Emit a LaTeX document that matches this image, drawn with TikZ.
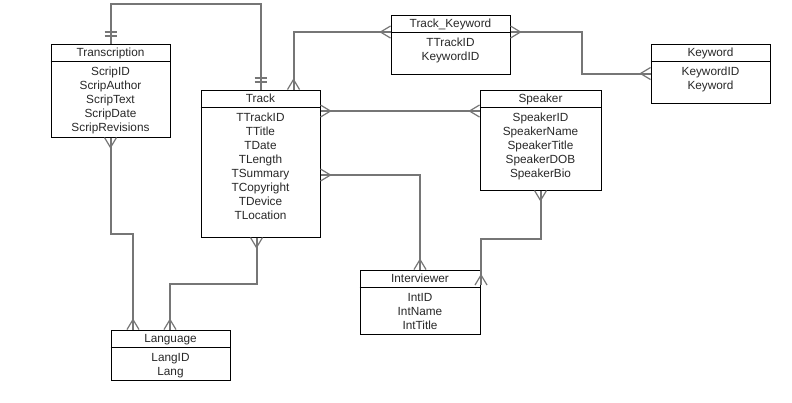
\documentclass[tikz,border=0pt]{standalone}
\usepackage{fontspec}
\setmainfont{Liberation Sans}
\usetikzlibrary{calc}
\definecolor{conncol}{RGB}{118,118,118}
\definecolor{txtcol}{RGB}{40,40,40}
\tikzset{
  entity/.style={draw=black, line width=1bp, rectangle, inner sep=0pt, anchor=north west, fill=white},
  ttl/.style={anchor=base, inner sep=0pt, text=txtcol, font=\fontsize{11.8bp}{14bp}\selectfont},
  attr/.style={anchor=north, inner sep=0pt, align=center, text=txtcol, font=\fontsize{11.8bp}{14bp}\selectfont},
  conn/.style={draw=conncol, line width=2bp},
  crowline/.style={draw=conncol, line width=1.2bp},
  hdr/.style={draw=black, line width=1bp}
}
\newcommand\ent[7]{%
  \node[entity, minimum width=#4bp, minimum height=#5bp] (#1) at (#2,#3) {};
  \draw[hdr] ($(#1.north west)+(0,18)$) -- ($(#1.north east)+(0,18)$);
  \node[ttl] (#1-t) at ($(#1.north)+(0,13)$) {#6};
  \node[attr] (#1-a) at ($(#1.north)+(0,22.5)$) {\rule{0pt}{9bp}#7};
}
\newcommand\crowN[1]{\draw[crowline] ($(#1)+(-6,0)$) -- ($(#1)+(0,-10)$) -- ($(#1)+(6,0)$);}
\newcommand\crowS[1]{\draw[crowline] ($(#1)+(-6,0)$) -- ($(#1)+(0,10)$) -- ($(#1)+(6,0)$);}
\newcommand\crowW[1]{\draw[crowline] ($(#1)+(0,-6)$) -- ($(#1)+(-10,0)$) -- ($(#1)+(0,6)$);}
\newcommand\crowE[1]{\draw[crowline] ($(#1)+(0,-6)$) -- ($(#1)+(10,0)$) -- ($(#1)+(0,6)$);}
\newcommand\barsN[1]{\draw[conn] ($(#1)+(-6,-7.5)$) -- ($(#1)+(6,-7.5)$) ($(#1)+(-6,-11.5)$) -- ($(#1)+(6,-11.5)$);}
\begin{document}
\begin{tikzpicture}[x=1bp, y=-1bp]
\fill[white] (0,0) rectangle (792,402);
\path[use as bounding box] (0,0) rectangle (792,402);

\ent{trans}{50.5}{43.5}{119}{93}{Transcription}{ScripID\\ScripAuthor\\ScripText\\ScripDate\\ScripRevisions}
\ent{track}{200.5}{89.5}{119}{147}{Track}{TTrackID\\TTitle\\TDate\\TLength\\TSummary\\TCopyright\\TDevice\\TLocation}
\ent{tk}{390.5}{14.5}{119}{59}{Track\_Keyword}{TTrackID\\KeywordID}
\ent{kw}{650.5}{43.5}{119}{59}{Keyword}{KeywordID\\Keyword}
\ent{spk}{479.5}{89.5}{121}{100}{Speaker}{SpeakerID\\SpeakerName\\SpeakerTitle\\SpeakerDOB\\SpeakerBio}
\ent{intv}{359.5}{269.5}{120}{64}{Interviewer}{IntID\\IntName\\IntTitle}
\ent{lang}{110.5}{329.5}{119}{50}{Language}{LangID\\Lang}

% Transcription -- Track (one to one)
\coordinate (c1a) at (trans.north);
\coordinate (c1b) at (track.north);
\draw[conn] (c1a) -- ($(c1a)+(0,-39.5)$) -| (c1b);
\barsN{c1a}
\barsN{c1b}

% Track -- Track_Keyword
\coordinate (c2a) at ($(track.north)+(33,0)$);
\coordinate (c2b) at ($(tk.north west)+(0,17.5)$);
\draw[conn] (c2a) |- (c2b);
\crowN{c2a}
\crowW{c2b}

% Track_Keyword -- Keyword
\coordinate (c3a) at ($(tk.north east)+(0,17.5)$);
\coordinate (c3b) at (kw.west);
\draw[conn] (c3a) -- ($(c3a)+(71.5,0)$) |- (c3b);
\crowE{c3a}
\crowW{c3b}

% Track -- Speaker
\coordinate (c4a) at ($(track.north east)+(0,21.5)$);
\coordinate (c4b) at (spk.west |- c4a);
\draw[conn] (c4a) -- (c4b);
\crowE{c4a}
\crowW{c4b}

% Track -- Interviewer
\coordinate (c5a) at ($(track.north east)+(0,85.5)$);
\coordinate (c5b) at ($(intv.north west)+(60.5,0)$);
\draw[conn] (c5a) -| (c5b);
\crowE{c5a}
\crowN{c5b}

% Speaker -- Interviewer
\coordinate (c6a) at (spk.south);
\coordinate (c6b) at ($(intv.north east)+(0.5,15.5)$);
\draw[conn] (c6a) -- ($(c6a)+(0,48.5)$) -| (c6b);
\crowS{c6a}
\crowN{c6b}

% Transcription -- Language
\coordinate (c7a) at (trans.south);
\coordinate (c7b) at ($(lang.north west)+(22.5,0)$);
\draw[conn] (c7a) -- ($(c7a)+(0,96.5)$) -| (c7b);
\crowS{c7a}
\crowN{c7b}

% Track -- Language
\coordinate (c8a) at ($(track.south)+(-4,0)$);
\coordinate (c8b) at ($(lang.north west)+(59.5,0)$);
\draw[conn] (c8a) -- ($(c8a)+(0,46.5)$) -| (c8b);
\crowS{c8a}
\crowN{c8b}
\end{tikzpicture}
\end{document}
